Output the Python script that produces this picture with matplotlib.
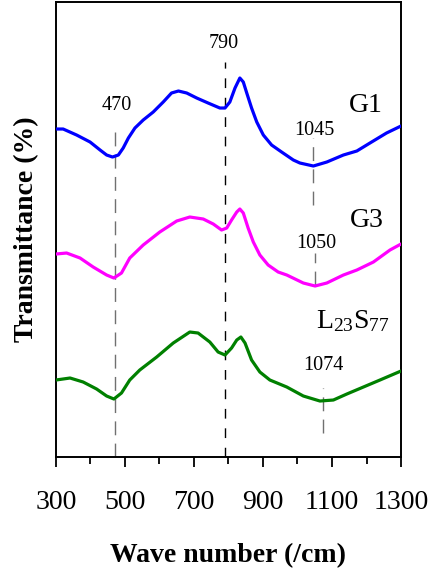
import matplotlib
matplotlib.use("Agg")
import matplotlib.pyplot as plt

plt.rcParams['font.family'] = ['Liberation Serif', 'DejaVu Serif']
plt.rcParams['mathtext.fontset'] = 'custom'
plt.rcParams['mathtext.rm'] = 'Liberation Serif'
plt.rcParams['mathtext.it'] = 'Liberation Serif:italic'

# FTIR spectra (wave number in /cm, transmittance in offset arbitrary units)
wn_g1 = [300, 321, 360, 399, 428, 447, 464, 481, 495, 510, 529, 553, 582, 611,
         635, 655, 679, 708, 741, 775, 790, 804, 819, 833, 843, 853, 867, 882,
         901, 925, 954, 988, 1007, 1046, 1085, 1133, 1172, 1210, 1258, 1300]
t_g1 = [328, 328, 322, 315, 307, 302, 300, 302, 309, 319, 329, 337, 345, 355,
        364, 366, 364, 359, 354, 349, 349, 355, 369, 379, 375, 364, 349, 335,
        322, 312, 305, 297, 294, 291, 295, 302, 306, 314, 324, 331]

wn_g3 = [300, 331, 370, 408, 447, 468, 490, 514, 553, 601, 650, 688, 727, 756,
         780, 795, 809, 824, 833, 843, 857, 872, 891, 915, 944, 969, 1017, 1051,
         1085, 1133, 1172, 1220, 1268, 1300]
t_g3 = [203, 204, 199, 190, 182, 179, 184, 199, 212, 225, 236, 240, 238, 233,
        227, 229, 237, 245, 248, 244, 229, 215, 202, 192, 185, 182, 174, 171,
        174, 182, 187, 195, 207, 213]

wn_ls = [300, 341, 379, 418, 447, 468, 490, 514, 543, 592, 640, 688, 712, 746,
         770, 790, 809, 824, 836, 848, 867, 891, 920, 969, 1017, 1065, 1104,
         1143, 1191, 1239, 1300]
t_ls = [77, 79, 75, 68, 61, 58, 64, 77, 87, 100, 114, 125, 124, 115,
        105, 102, 109, 117, 120, 114, 97, 85, 77, 70, 61, 56, 57,
        63, 70, 77, 86]

series_labels = ['G1', 'G3', r'L$_{23}$S$_{77}$']
series_colors = ['#0000ff', '#ff00ff', '#008000']
series_lbl_x = [1199, 1201, 1161]
series_lbl_y = [345, 230, 129]

# marked bands: position, vertical extent of the guide line, label placement
band_wn = [470, 790, 1045, 1050, 1074]
band_lo = [0, 0, 252, 172, 24]
band_hi = [327, 395, 319, 204, 69]
band_lbl = ['470', '790', '1045', '1050', '1074']
band_lbl_x = [477, 787, 1048, 1054, 1074]
band_lbl_y = [347, 409, 322, 209, 87]
band_col = ['#707070', 'black', '#707070', '#707070', '#707070']

major_ticks = [300, 500, 700, 900, 1100, 1300]
minor_ticks = [400, 600, 800, 1000, 1200]

fig = plt.figure(figsize=(4.30, 5.74), dpi=100)
ax = fig.add_axes([0.130, 0.2038, 0.8026, 0.7927])

for lo, hi, x, c in zip(band_lo, band_hi, band_wn, band_col):
    ls = (0, (7, 7)) if c == 'black' else (0, (10, 6))
    ax.vlines(x, lo, hi, colors=c, linewidth=1.0, linestyles=ls, zorder=1)

for wn, t, col in zip([wn_g1, wn_g3, wn_ls], [t_g1, t_g3, t_ls], series_colors):
    ax.plot(wn, t, color=col, linewidth=2.3, solid_joinstyle='round',
            solid_capstyle='round', zorder=3)

for s, x, y in zip(band_lbl, band_lbl_x, band_lbl_y):
    ax.text(x, y, s, ha='center', va='baseline', fontsize=14.5)

for s, x, y in zip(series_labels, series_lbl_x, series_lbl_y):
    ax.text(x, y, s, ha='center', va='baseline', fontsize=20)

ax.set_xlim(300, 1300)
ax.set_ylim(0, 455)
ax.set_xticks(major_ticks)
ax.set_xticks(minor_ticks, minor=True)
ax.tick_params(axis='x', which='major', direction='out', length=7, width=1.3,
               labelsize=20, pad=17)
ax.tick_params(axis='x', which='minor', direction='out', length=5, width=1.3)
ax.set_yticks([])
for sp in ax.spines.values():
    sp.set_linewidth(1.4)

ax.set_xlabel('Wave number (/cm)', fontsize=20, fontweight='bold', labelpad=20)
ax.set_ylabel('Transmittance (%)', fontsize=20, fontweight='bold', labelpad=12)

fig.savefig('out.png', dpi=100)
